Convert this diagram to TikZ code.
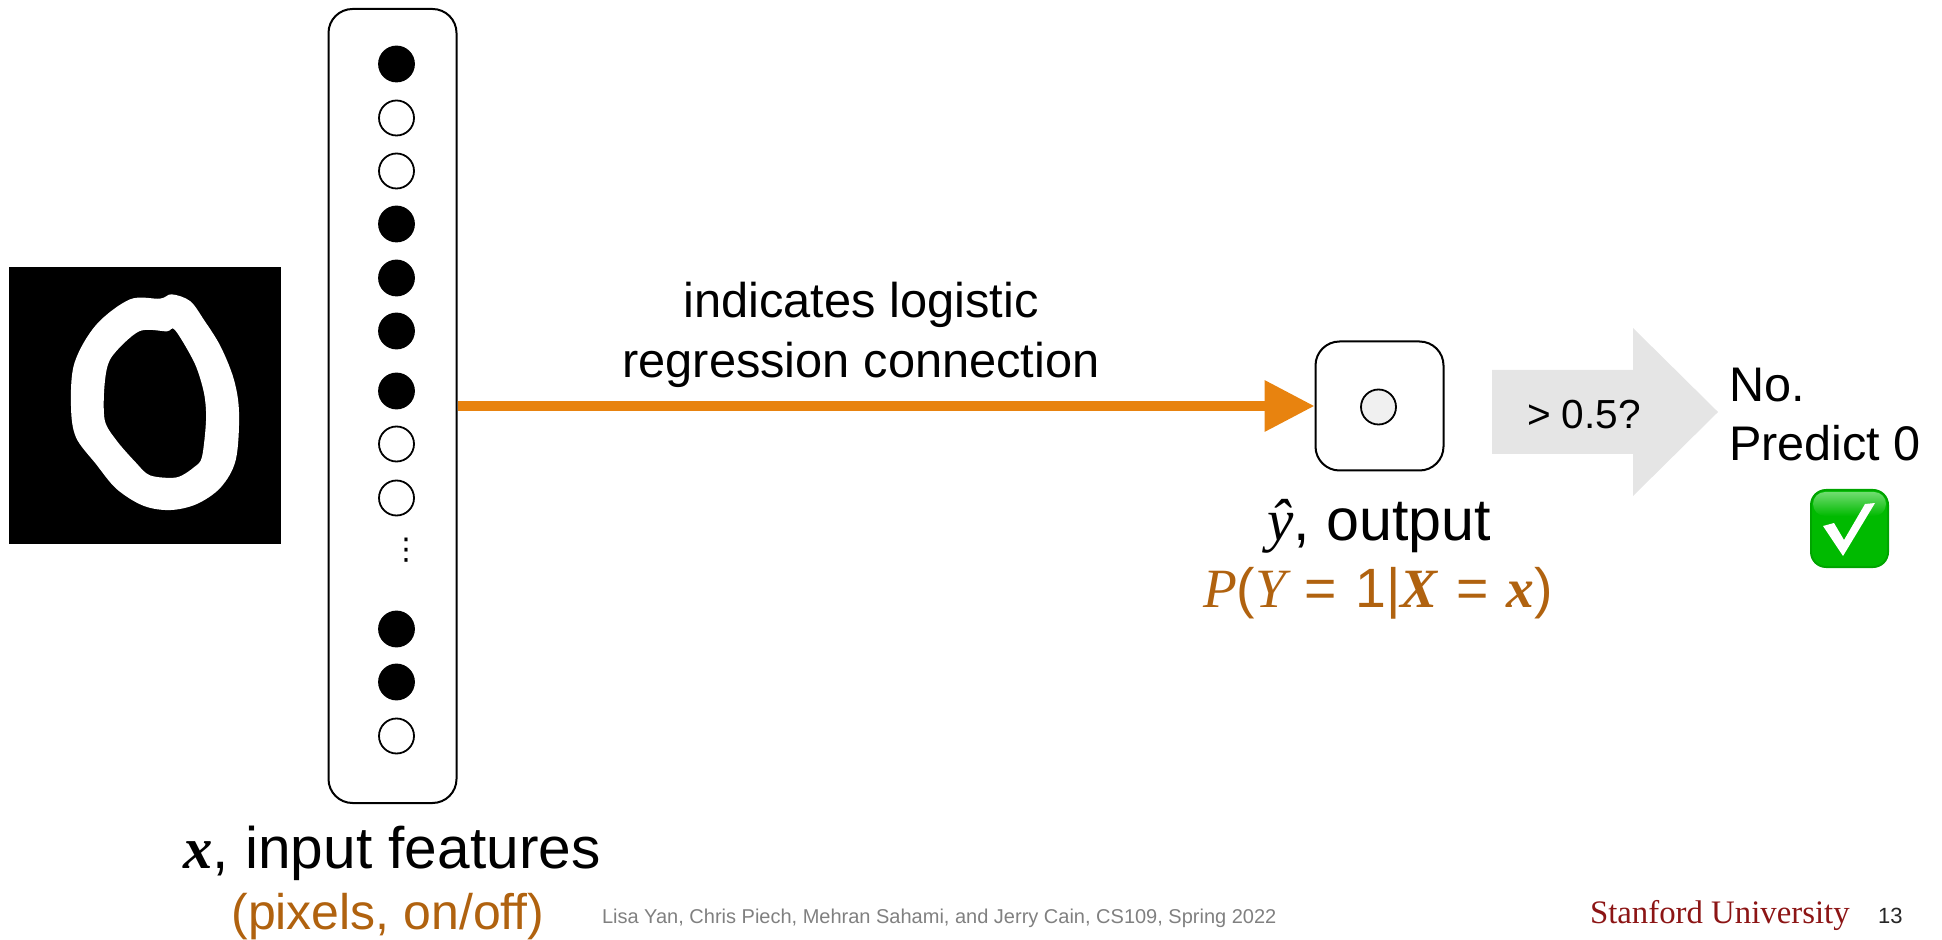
\documentclass[tikz,border=0pt]{standalone}
\usepackage{fontspec}
\usetikzlibrary{arrows.meta}
\setmainfont{Liberation Sans}
\newfontfamily\mathfam{Liberation Serif}
\newfontfamily\stanfam{Liberation Serif}
\newfontfamily\dejavu{DejaVu Sans}
\definecolor{accent}{HTML}{B0620F}
\definecolor{arrowor}{HTML}{E8830F}
\definecolor{cardinal}{HTML}{8C1515}
\definecolor{checkedge}{HTML}{00A400}
\definecolor{checkmid}{HTML}{00BA00}
\definecolor{checktop}{HTML}{70DC70}
\newcommand{\mi}[1]{{\mathfam\itshape #1}}
\newcommand{\mb}[1]{{\mathfam\bfseries\itshape #1}}
\tikzset{
  x=0.5pt,y=-0.5pt,
  column/.style={draw=black,line width=1pt,rounded corners=12pt,fill=white,inner sep=0pt,minimum width=64pt,minimum height=397pt},
  outbox/.style={draw=black,line width=1pt,rounded corners=12pt,fill=white,inner sep=0pt,minimum width=64pt,minimum height=64.5pt},
  on/.style={circle,draw=black,fill=black,line width=0.9pt,minimum size=17.5pt,inner sep=0pt},
  off/.style={circle,draw=black,fill=white,line width=0.9pt,minimum size=17.5pt,inner sep=0pt},
  txt/.style={anchor=base west,inner sep=0pt,outer sep=0pt},
  ctxt/.style={anchor=base,inner sep=0pt,outer sep=0pt,align=center},
}
\begin{document}
\begin{tikzpicture}
\useasboundingbox (0,0) rectangle (1942,940);
% digit image
\fill[black] (9,267) rectangle (281,544);
\begin{scope}[shift={(0,240)},x=0.1667pt,y=-0.1667pt]
\fill[white,even odd rule]
 plot[smooth cycle,tension=0.55] coordinates {(515,163)(570,183)(612,240)(662,320)(702,420)(717,520)(707,660)(662,742)(590,792)(510,810)(430,797)(350,747)(288,672)(228,592)(213,500)(223,370)(288,255)(390,178)(480,176)}
 plot[smooth cycle,tension=0.5] coordinates {(525,270)(584,370)(612,460)(618,540)(606,650)(584,680)(530,712)(450,706)(406,666)(350,602)(314,540)(314,430)(334,352)(417,274)(500,274)};
\end{scope}
% input column
\node[column] (col) at (392.5,406) {};
\node[on]  (c1)  at (396.5,64)  {};
\node[off] (c2)  at (396.5,118) {};
\node[off] (c3)  at (396.5,171) {};
\node[on]  (c4)  at (396.5,224) {};
\node[on]  (c5)  at (396.5,278) {};
\node[on]  (c6)  at (396.5,331) {};
\node[on]  (c7)  at (396.5,391) {};
\node[off] (c8)  at (396.5,444) {};
\node[off] (c9)  at (396.5,498) {};
\node[inner sep=0pt,font=\dejavu\fontsize{15pt}{15pt}\selectfont] (dots) at (406,550) {⋮};
\node[on]  (c10) at (396.5,629) {};
\node[on]  (c11) at (396.5,682) {};
\node[off] (c12) at (396.5,736) {};
% output
\node[outbox] (out) at (1379.5,406) {};
\node[circle,draw=black,fill=black!6,line width=0.9pt,minimum size=17.5pt,inner sep=0pt] (outc) at (1378.5,407) {};
% connector
\draw[arrowor,line width=5pt,-{Triangle[length=25pt,width=24.5pt]}] (col.east |- out.west) -- (out.west);
% texts
\node[ctxt,font=\fontsize{24.4pt}{28pt}\selectfont] (l1) at (861,318) {indicates logistic};
\node[ctxt,font=\fontsize{24.4pt}{28pt}\selectfont] (l2) at (861,378) {regression connection};
% block arrow
\fill[black!10] (1492,370) -- (1633,370) -- (1633,328) -- (1718,412) -- (1633,496) -- (1633,454) -- (1492,454) -- cycle;
\node[ctxt,font=\fontsize{20.3pt}{22pt}\selectfont] (gt) at (1584,429) {> 0.5?};
\node[txt,font=\fontsize{24.3pt}{28pt}\selectfont] (no) at (1729,402) {No.};
\node[txt,font=\fontsize{24.3pt}{28pt}\selectfont] (pr) at (1729,461) {Predict 0};
% check mark
\fill[checkedge,rounded corners=8pt] (1810,489) rectangle (1889,568);
\fill[checkmid,rounded corners=7pt] (1812,491) rectangle (1887,566);
\shade[top color=checktop,bottom color=checkmid,rounded corners=6pt] (1813,492) rectangle (1886,516);
\fill[white] (1823,526) -- (1834,523) -- (1844,540) -- (1865,504) -- (1875,503) -- (1843,556) -- cycle;
% labels
\node[ctxt,font=\fontsize{29.6pt}{30pt}\selectfont] (yh) at (1379,540) {\mi{ŷ}, output};
\node[ctxt,font=\fontsize{27.7pt}{30pt}\selectfont,text=accent] (prob) at (1378,607) {\mi{P}(\mi{Y}\,\,=\,\,1|\mb{X}\,\,=\,\,\mb{x})};
\node[ctxt,font=\fontsize{29.3pt}{30pt}\selectfont] (xl) at (392,868) {\mb{x}, input features};
\node[ctxt,font=\fontsize{25pt}{30pt}\selectfont,text=accent] (px) at (388,929) {(pixels, on/off)};
\node[txt,font=\fontsize{10pt}{12pt}\selectfont,text=black!50] (foot) at (602,923) {Lisa Yan, Chris Piech, Mehran Sahami, and Jerry Cain, CS109, Spring 2022};
\node[txt,font=\stanfam\fontsize{16.4pt}{20pt}\selectfont,text=cardinal] (su) at (1590,923) {Stanford University};
\node[txt,font=\fontsize{11pt}{12pt}\selectfont,text=black!85] (pg) at (1878,923) {13};
\end{tikzpicture}
\end{document}
